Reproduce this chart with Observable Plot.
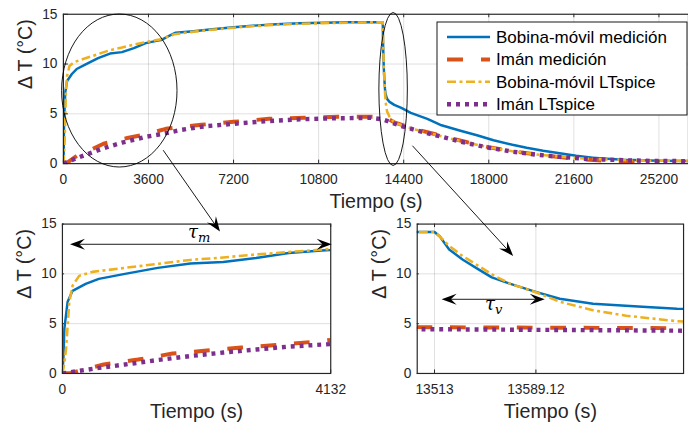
<!DOCTYPE html>
<html><head><meta charset="utf-8">
<script src="https://cdn.jsdelivr.net/npm/d3@7"></script>
<script src="https://cdn.jsdelivr.net/npm/@observablehq/plot@0.6"></script>
<style>
body{margin:0;background:#fff;}
#wrap{position:relative;width:688px;height:428px;overflow:hidden;background:#fff;font-family:"Liberation Sans",Arial,sans-serif;}
#wrap svg{position:absolute;left:0;}
</style></head><body><div id="wrap"></div>
<script>
// ---- data (time in s, ΔT in °C) ----
const bobinaMedicion = [[0,0],[15,1.5],[30,4.5],[80,7.2],[156,8.3],[358,9.0],[560,9.5],[963,10.0],[1468,10.6],[1972,11.05],[2477,11.2],[2982,11.6],[3486,12.1],[3990,12.35],[4132,12.4],[4450,12.8],[4750,13.15],[5500,13.3],[6300,13.5],[7200,13.7],[8000,13.85],[9000,14.0],[10000,14.1],[11000,14.15],[12000,14.2],[13513,14.2],[13517,13.75],[13524,12.45],[13534,11.45],[13546,10.45],[13556,9.65],[13570,9.0],[13589,8.2],[13607,7.5],[13632,7.0],[13669,6.7],[13695,6.5],[13800,6.2],[14000,5.9],[14300,5.6],[14700,5.1],[15400,4.5],[16000,3.85],[16800,3.3],[17500,2.85],[18200,2.35],[19000,1.9],[19600,1.6],[20300,1.3],[21000,1.05],[21700,0.8],[22400,0.6],[23000,0.5],[23700,0.4],[24500,0.33],[25200,0.3],[26450,0.27]];
const imanMedicion = [[0,0],[131,0.05],[636,0.9],[1165,1.4],[1696,2.0],[2225,2.3],[2755,2.6],[3285,2.85],[3815,3.15],[4333,3.5],[5833,3.9],[7200,4.2],[8700,4.5],[10170,4.6],[11625,4.7],[13080,4.7],[13499,4.65],[13695,4.55],[14000,4.15],[14500,3.75],[15000,3.4],[16000,2.8],[17000,2.2],[18000,1.65],[19000,1.25],[20000,0.92],[21000,0.65],[22000,0.42],[23000,0.28],[24000,0.17],[24700,0.1]];
const bobinaLTspice = [[0,0],[30,1.0],[56,2.5],[106,7.2],[156,8.8],[257,9.8],[460,10.2],[963,10.6],[1468,11.0],[1972,11.4],[2477,11.65],[2982,11.95],[3486,12.2],[4132,12.5],[4700,13.0],[5500,13.25],[6300,13.45],[7200,13.65],[8000,13.8],[9000,13.95],[10000,14.05],[11000,14.1],[12000,14.15],[13513,14.2],[13517,13.75],[13524,12.8],[13534,11.8],[13546,10.8],[13558,9.8],[13570,9.0],[13589,8.15],[13607,7.2],[13632,6.35],[13657,5.8],[13695,5.25],[13800,4.7],[13950,4.25],[14200,3.95],[14500,3.7],[15000,3.35],[16000,2.75],[17000,2.15],[18000,1.65],[19000,1.25],[20000,0.93],[21000,0.7],[22000,0.52],[23000,0.42],[24000,0.34],[25000,0.29],[26450,0.27]];
const imanLTspice = [[0,0],[500,0.5],[963,0.9],[1468,1.35],[1972,1.75],[2477,2.1],[2982,2.4],[3486,2.7],[4132,2.95],[5000,3.4],[6000,3.75],[7200,4.0],[8500,4.25],[10000,4.45],[11500,4.55],[13000,4.6],[13499,4.45],[13695,4.3],[13900,4.1],[14200,3.85],[14500,3.65],[15000,3.3],[16000,2.7],[17000,2.1],[18000,1.6],[19000,1.2],[20000,0.9],[21000,0.68],[22000,0.5],[23000,0.4],[24000,0.32],[25000,0.27],[26450,0.25]];

const seriesNames = ["Bobina-móvil medición","Imán medición","Bobina-móvil LTspice","Imán LTspice"];
const seriesData = [bobinaMedicion, imanMedicion, bobinaLTspice, imanLTspice];

const xTicksTop = [0,3600,7200,10800,14400,18000,21600,25200];
const xTicksM = [0,4132];
const xTicksV = [13513,13589.12];
const yTicks = [0,5,10,15];
const tauM = [106,4067];      // span of τm arrow (s)
const tauV = [13513,13589.12];// span of τv arrow (s)

// ---- styles ----
const colors = ["#0072BD","#D95319","#EDB120","#7E2F8E"];
const widths = [2.5,4,2.6,4.5];
const dashes = [null,"16,18","9,3.5,3,3.5","4,5"];
const axisColor = "#262626";

function panel({width,height,mL,mR,mT,mB,xDomain,xTicks,vGrid,hGrid}) {
  const span = xDomain[1]-xDomain[0];
  const marks = [
    Plot.gridY(hGrid,{stroke:"#000",strokeOpacity:0.13,strokeWidth:1}),
    Plot.gridX(vGrid,{stroke:"#000",strokeOpacity:0.13,strokeWidth:1}),
  ];
  seriesData.forEach((d,i)=>{
    marks.push(Plot.line(d,{x:p=>p[0],y:p=>p[1],stroke:colors[i],strokeWidth:widths[i],
      strokeDasharray:dashes[i]||undefined,strokeLinecap:"butt",strokeLinejoin:"round",clip:true}));
  });
  marks.push(
    Plot.ruleX(xTicks,{y1:0,y2:0.35,stroke:axisColor}),
    Plot.ruleX(xTicks,{y1:14.65,y2:15,stroke:axisColor}),
    Plot.ruleY(yTicks,{x1:xDomain[0],x2:xDomain[0]+span*0.008,stroke:axisColor}),
    Plot.frame({stroke:axisColor,strokeWidth:1.2}),
    Plot.axisX(xTicks,{tickSize:0,tickPadding:11,tickFormat:d=>String(d),label:null,fill:axisColor,fontSize:14}),
    Plot.axisY(yTicks,{tickSize:0,tickPadding:6,tickFormat:d=>String(d),label:null,fill:axisColor,fontSize:14}),
    Plot.text(["Tiempo (s)"],{text:d=>d,frameAnchor:"bottom",lineAnchor:"middle",dy:39,fontSize:20,fill:axisColor}),
    Plot.text(["Δ T (°C)"],{text:d=>d,frameAnchor:"left",lineAnchor:"middle",dx:-38,rotate:-90,fontSize:20,fill:axisColor})
  );
  return Plot.plot({
    width,height,marginLeft:mL,marginRight:mR,marginTop:mT,marginBottom:mB,
    x:{domain:xDomain},y:{domain:[0,15]},
    style:{fontFamily:"Liberation Sans, Arial, sans-serif",fontSize:"14px",background:"transparent",overflow:"visible"},
    marks
  });
}

const wrap = document.getElementById("wrap");
const topPlot = panel({width:700,height:220,mL:64,mR:0,mT:14,mB:54,xDomain:[0,26450],xTicks:xTicksTop,vGrid:xTicksTop,hGrid:[5,10]});
topPlot.style.top="0px";
const leftPlot = panel({width:700,height:228,mL:63,mR:364,mT:24,mB:52,xDomain:[0,4132],xTicks:xTicksM,vGrid:[],hGrid:[5,10]});
leftPlot.style.top="200px";
const rightPlot = panel({width:700,height:228,mL:424,mR:5,mT:24,mB:52,xDomain:[13500,13700],xTicks:xTicksV,vGrid:xTicksV,hGrid:[5,10]});
rightPlot.style.top="200px";
wrap.append(topPlot,leftPlot,rightPlot);

// ---- annotation overlay (positions through the plots' scales) ----
const T = {x:topPlot.scale("x"),y:topPlot.scale("y"),dy:0};
const L = {x:leftPlot.scale("x"),y:leftPlot.scale("y"),dy:200};
const R = {x:rightPlot.scale("x"),y:rightPlot.scale("y"),dy:200};
const P = (s,t,v)=>[s.x.apply(t),s.y.apply(v)+s.dy];

const svg = d3.create("svg").attr("width",688).attr("height",428).style("top","0px");

function ellipse(s,t,v,rt,rv){
  const [cx,cy]=P(s,t,v); const [ex,ey]=P(s,t+rt,v-rv);
  svg.append("ellipse").attr("cx",cx).attr("cy",cy).attr("rx",ex-cx).attr("ry",ey-cy)
    .attr("fill","none").attr("stroke","#000").attr("stroke-width",0.9);
}
ellipse(T,2300,7.45,2400,7.55);
ellipse(T,13687,7.6,592,7.55);

function head(a,b){
  const dx=b[0]-a[0],dy=b[1]-a[1],len=Math.hypot(dx,dy),ux=dx/len,uy=dy/len,nx=-uy,ny=ux;
  const Lh=15,W=11;
  const p1=[b[0]-ux*Lh+nx*W/2,b[1]-uy*Lh+ny*W/2];
  const p2=[b[0]-ux*Lh*0.62,b[1]-uy*Lh*0.62];
  const p3=[b[0]-ux*Lh-nx*W/2,b[1]-uy*Lh-ny*W/2];
  svg.append("path").attr("d",`M${b}L${p1}L${p2}L${p3}Z`).attr("fill","#000");
  return p2;
}
function arrow(a,b,both){
  const e=head(a,b); const s=both?head(b,a):a;
  svg.append("line").attr("x1",s[0]).attr("y1",s[1]).attr("x2",e[0]).attr("y2",e[1])
    .attr("stroke","#000").attr("stroke-width",0.9);
}
arrow(P(T,4125,1.56),P(L,2376,14.25));
arrow(P(T,14490,2.0),P(R,13565.8,11.85));
arrow(P(L,tauM[0],13.0),P(L,tauM[1],13.0),true);
arrow(P(R,tauV[0],7.57),P(R,tauV[1],7.57),true);

function tau(pos,sub){
  const t=svg.append("text").attr("x",pos[0]).attr("y",pos[1])
    .attr("font-family","DejaVu Serif, Liberation Serif, serif").attr("font-style","italic").attr("font-size",18).attr("fill","#000");
  t.append("tspan").text("τ");
  t.append("tspan").attr("dy",4).attr("font-size",13).text(sub);
}
tau(P(L,1892,13.57),"m");
tau(P(R,13545,6.5),"v");

// ---- legend ----
const lg = svg.append("g").attr("transform","translate(437,22)");
lg.append("rect").attr("width",250).attr("height",93).attr("fill","#fff").attr("stroke","#000").attr("stroke-width",0.9);
seriesNames.forEach((n,i)=>{
  const y = 15 + i*22.4;
  lg.append("line").attr("x1",10).attr("x2",53).attr("y1",y).attr("y2",y)
    .attr("stroke",colors[i]).attr("stroke-width",widths[i]).attr("stroke-dasharray",dashes[i]||null);
  lg.append("text").attr("x",59).attr("y",y).attr("dy","0.35em").attr("font-size",17)
    .attr("font-family","Liberation Sans, Arial, sans-serif").attr("fill","#000").text(n);
});
wrap.append(svg.node());
</script></body></html>
